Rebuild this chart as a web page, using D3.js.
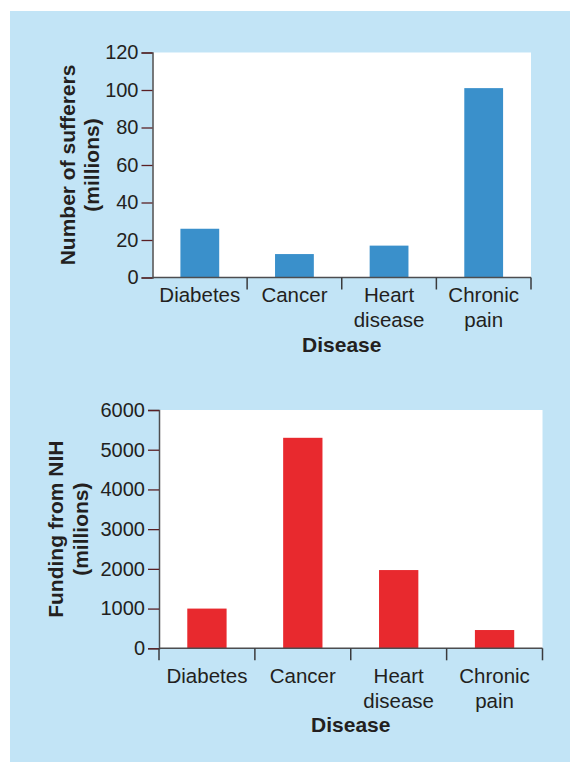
<!DOCTYPE html>
<html>
<head>
<meta charset="utf-8">
<script src="https://cdn.jsdelivr.net/npm/d3@7"></script>
<style>
  html, body { margin: 0; padding: 0; background: #ffffff; }
  svg { display: block; }
  text { font-family: "Liberation Sans", Arial, Helvetica, sans-serif; fill: #231f20; }
</style>
</head>
<body>
<svg id="chart" width="570" height="762"></svg>
<script>
// ---- data ----
const categories = ["Diabetes", "Cancer", "Heart disease", "Chronic pain"];
const categoryLines = [["Diabetes"], ["Cancer"], ["Heart", "disease"], ["Chronic", "pain"]];
const sufferers = [26, 12.5, 17, 101];          // millions
const funding = [1000, 5300, 1970, 460];         // millions of dollars
const sufferersTicks = [0, 20, 40, 60, 80, 100, 120];
const fundingTicks = [0, 1000, 2000, 3000, 4000, 5000, 6000];
const xTitle = "Disease";
const yTitle1 = ["Number of sufferers", "(millions)"];
const yTitle2 = ["Funding from NIH", "(millions)"];

const svg = d3.select("#chart");
svg.append("rect").attr("x", 10).attr("y", 11).attr("width", 560).attr("height", 751).attr("fill", "#c2e4f6");

function drawPanel(cfg) {
  const { left, right, top, bottom, values, ticks, max, color, yTitle, yTitleX, leftTick, labelY, titleY } = cfg;
  const g = svg.append("g");
  const x = d3.scaleBand().domain(categories).range([left, right]).paddingInner(0.59).paddingOuter(0.295);
  const y = d3.scaleLinear().domain([0, max]).range([bottom, top]);

  g.append("rect").attr("x", left).attr("y", top).attr("width", right - left).attr("height", bottom - top).attr("fill", "#ffffff");

  g.selectAll("rect.bar").data(values).join("rect")
    .attr("class", "bar")
    .attr("x", (d, i) => x(categories[i]))
    .attr("width", x.bandwidth())
    .attr("y", d => y(d))
    .attr("height", d => y(0) - y(d))
    .attr("fill", color);

  // y axis
  const ya = g.append("g").attr("transform", `translate(${left},0)`)
    .call(d3.axisLeft(y).tickValues(ticks).tickSize(11).tickPadding(3).tickFormat(d3.format("d")));
  ya.select(".domain").attr("stroke", "#4d4d4f").attr("stroke-width", 1.5);
  ya.selectAll(".tick line").attr("stroke", "#5a1f24").attr("stroke-width", 1.3);
  ya.selectAll(".tick text").attr("font-size", 20).attr("fill", "#231f20")
    .attr("font-family", "Liberation Sans, Arial, sans-serif");

  // x axis baseline
  g.append("line").attr("x1", left).attr("x2", right).attr("y1", y(0)).attr("y2", y(0))
    .attr("stroke", "#4d4d4f").attr("stroke-width", 1.5);
  const step = x.step();
  const bounds = d3.range(leftTick ? 0 : 1, categories.length + 1).map(i => left + i * step);
  g.selectAll("line.xt").data(bounds).join("line").attr("class", "xt")
    .attr("x1", d => d).attr("x2", d => d).attr("y1", y(0)).attr("y2", y(0) + 12)
    .attr("stroke", "#3a3a3c").attr("stroke-width", 1.5);

  // category labels
  const lab = g.selectAll("text.cat").data(categoryLines).join("text").attr("class", "cat")
    .attr("text-anchor", "middle").attr("font-size", 20.5)
    .attr("x", (d, i) => x(categories[i]) + x.bandwidth() / 2)
    .attr("y", labelY);
  lab.selectAll("tspan").data(d => d).join("tspan")
    .attr("x", function () { return d3.select(this.parentNode).attr("x"); })
    .attr("dy", (d, i) => i === 0 ? 0 : 25)
    .text(d => d);

  g.append("text").attr("x", (left + right) / 2).attr("y", titleY)
    .attr("text-anchor", "middle").attr("font-size", 21).attr("font-weight", "bold").text(xTitle);

  const cy = (top + bottom) / 2;
  yTitle.forEach((t, i) => {
    g.append("text").attr("transform", `translate(${yTitleX[i]},${cy}) rotate(-90)`)
      .attr("text-anchor", "middle").attr("font-size", 21).attr("font-weight", "bold").text(t);
  });
}

drawPanel({ left: 152.5, right: 531, top: 52.5, bottom: 277.5, values: sufferers, ticks: sufferersTicks, max: 120,
  color: "#3a90cb", yTitle: yTitle1, yTitleX: [75, 99], leftTick: false, labelY: 301.5, titleY: 352 });
drawPanel({ left: 159, right: 542.5, top: 410, bottom: 648.3, values: funding, ticks: fundingTicks, max: 6000,
  color: "#e8292e", yTitle: yTitle2, yTitleX: [63, 88], leftTick: true, labelY: 683, titleY: 731.5 });
</script>
</body>
</html>
